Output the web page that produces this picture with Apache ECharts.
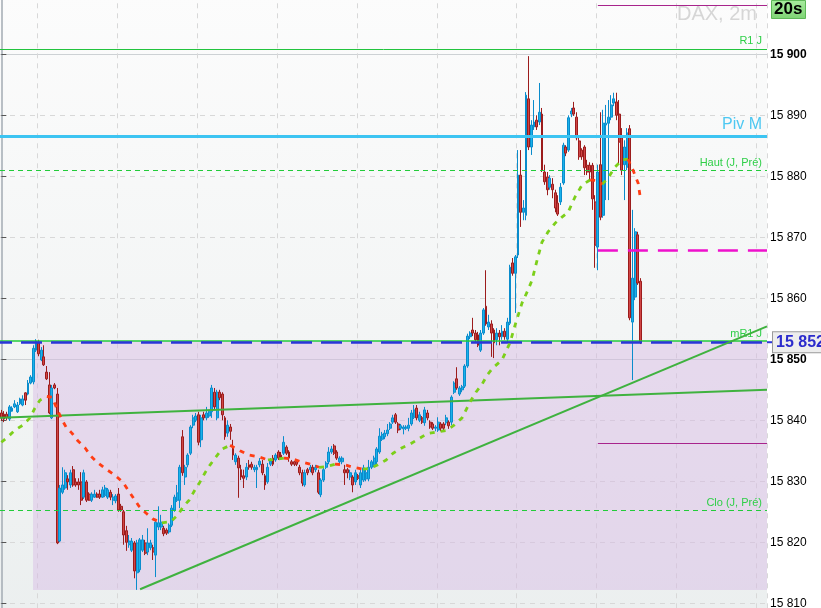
<!DOCTYPE html>
<html><head><meta charset="utf-8">
<script src="https://cdn.jsdelivr.net/npm/echarts/dist/echarts.min.js"></script>
<style>html,body{margin:0;padding:0;background:#fff}#c{width:821px;height:608px}</style>
</head><body><div id="c"></div>
<script>
// ---- DATA (2-minute DAX candles) ----
const open = [
15841.2,15841.0,15841.0,15840.2,15841.5,15842.2,15841.4,15842.7,15842.5,15844.5,
15844.3,15846.1,15846.3,15851.5,15852.7,15849.9,15850.4,15847.9,15845.8,15840.4,
15845.8,15844.3,15820.2,15828.2,15828.9,15830.4,15829.4,15831.9,15829.9,15829.9,
15829.9,15827.4,15829.9,15827.9,15826.9,15827.4,15827.9,15827.9,15827.4,15827.7,
15827.4,15828.2,15826.9,15826.8,15827.9,15825.9,15825.0,15821.9,15819.6,15818.7,
15819.9,15815.0,15815.5,15818.7,15819.9,15818.4,15819.1,15819.1,15817.9,15822.5,
15822.5,15822.3,15822.0,15821.7,15822.8,15825.3,15826.9,15826.9,15837.3,15830.7,
15832.7,15834.6,15839.2,15840.0,15840.9,15836.8,15840.9,15840.4,15840.7,15841.4,
15844.6,15840.4,15844.6,15844.3,15840.4,15837.9,15838.9,15835.6,15833.2,15833.8,
15831.9,15830.9,15830.7,15832.7,15832.8,15831.9,15831.9,15832.7,15832.8,15830.9,
15829.9,15832.8,15833.8,15833.5,15834.8,15834.3,15834.6,15835.6,15834.8,15833.2,
15833.2,15833.2,15832.3,15831.4,15829.4,15831.9,15831.9,15832.3,15831.9,15831.4,
15827.8,15830.2,15832.3,15833.2,15834.8,15835.8,15834.8,15833.2,15833.2,15831.9,
15831.9,15830.7,15830.7,15829.9,15830.9,15829.4,15830.2,15830.4,15830.4,15832.3,
15832.7,15833.2,15834.8,15836.9,15837.3,15837.8,15838.7,15839.7,15840.9,15839.4,
15838.7,15838.6,15838.7,15838.7,15839.4,15840.5,15842.0,15840.0,15840.4,15839.6,
15841.2,15839.7,15839.4,15838.7,15838.4,15839.4,15839.4,15839.6,15839.7,15839.7,
15844.6,15846.8,15844.3,15845.0,15845.6,15848.9,15853.7,15854.8,15854.3,15854.0,
15851.5,15854.3,15858.7,15855.3,15855.8,15854.8,15853.2,15854.3,15853.7,15854.6,
15853.3,15855.9,15865.8,15864.1,15867.1,15880.2,15874.1,15873.6,15892.7,15884.8,
15888.1,15889.2,15888.9,15890.2,15880.7,15879.9,15878.2,15878.7,15877.3,15875.6,
15875.8,15878.9,15884.8,15884.3,15890.2,15891.2,15889.7,15885.8,15884.3,15884.8,
15881.8,15881.8,15881.8,15875.8,15868.4,15881.9,15873.6,15888.4,15888.7,15889.7,
15892.0,15892.2,15890.2,15886.3,15881.9,15881.5,15887.8,15856.1,15860.2,15870.4,
15862.8];
const close = [
15840.4,15840.2,15840.4,15842.2,15842.0,15842.7,15842.5,15843.5,15843.5,15843.3,
15846.1,15847.1,15851.8,15853.0,15850.9,15851.5,15849.1,15846.8,15841.2,15845.3,
15845.3,15819.9,15828.9,15829.4,15831.4,15829.9,15831.4,15829.4,15829.4,15829.4,
15826.9,15831.4,15826.9,15826.9,15827.9,15827.9,15827.4,15827.4,15828.6,15828.9,
15828.6,15827.4,15827.4,15827.6,15825.3,15825.3,15821.2,15820.0,15820.2,15820.2,
15815.3,15819.9,15820.4,15820.4,15818.2,15819.9,15819.9,15818.4,15823.3,15823.2,
15823.3,15821.4,15821.5,15822.8,15825.6,15827.4,15828.1,15832.3,15831.4,15832.3,
15834.3,15838.9,15840.4,15840.7,15836.4,15840.4,15840.4,15841.2,15841.4,15845.3,
15842.2,15844.6,15843.7,15840.9,15837.3,15839.2,15838.2,15834.3,15834.3,15832.2,
15830.7,15830.5,15832.3,15832.3,15832.3,15832.3,15832.3,15833.3,15831.4,15829.4,
15832.3,15833.3,15832.8,15834.3,15833.8,15833.8,15836.4,15834.6,15833.8,15832.8,
15832.8,15832.8,15831.4,15829.7,15831.4,15831.4,15832.3,15831.4,15832.3,15828.2,
15830.2,15831.9,15833.0,15834.8,15835.3,15834.6,15833.8,15833.8,15833.8,15831.4,
15831.4,15831.4,15829.4,15831.4,15830.5,15831.4,15832.2,15831.4,15832.3,15833.2,
15833.8,15835.3,15837.4,15837.7,15837.9,15838.4,15839.4,15840.4,15839.7,15838.4,
15839.1,15838.9,15838.9,15839.2,15841.2,15841.7,15840.4,15840.9,15839.7,15841.7,
15840.4,15838.9,15838.7,15838.9,15839.7,15838.7,15838.7,15840.4,15839.1,15843.8,
15846.1,15845.3,15845.3,15845.5,15848.9,15853.8,15854.3,15854.3,15853.2,15852.3,
15854.3,15858.1,15855.8,15856.1,15854.3,15852.7,15854.3,15853.7,15854.6,15853.7,
15856.1,15865.1,15864.1,15866.8,15880.2,15874.1,15874.8,15893.3,15884.8,15888.4,
15888.9,15888.1,15890.5,15881.0,15879.1,15877.8,15879.7,15877.8,15874.8,15873.8,
15878.2,15885.1,15883.8,15889.6,15890.7,15890.2,15886.3,15883.2,15883.2,15881.4,
15880.7,15880.7,15876.3,15868.7,15880.7,15873.3,15888.7,15888.7,15889.7,15891.7,
15892.7,15890.0,15885.6,15881.0,15884.8,15887.1,15856.8,15863.3,15870.9,15862.5,
15852.8];
const low = [
15839.9,15839.7,15840.0,15839.9,15841.4,15842.0,15841.2,15842.5,15842.3,15842.5,
15844.1,15845.9,15845.9,15851.2,15850.5,15849.7,15848.9,15846.6,15841.0,15840.2,
15845.1,15819.7,15820.0,15827.9,15828.6,15828.6,15828.9,15829.1,15829.1,15828.6,
15826.1,15827.1,15826.6,15826.8,15826.6,15827.3,15827.3,15827.1,15827.3,15827.4,
15827.1,15826.9,15826.1,15826.4,15825.0,15825.0,15819.6,15818.6,15819.1,15818.4,
15814.1,15812.2,15815.1,15818.4,15817.9,15817.9,15818.7,15817.1,15814.3,15822.0,
15822.0,15821.0,15821.2,15821.4,15822.5,15825.0,15826.6,15825.6,15830.9,15829.4,
15832.3,15834.3,15838.7,15839.7,15835.9,15835.6,15840.0,15840.0,15840.4,15840.4,
15841.7,15840.0,15843.3,15840.0,15836.8,15837.3,15836.8,15833.5,15832.7,15827.3,
15830.2,15828.9,15830.2,15831.9,15831.9,15831.5,15828.9,15832.3,15831.0,15828.6,
15829.6,15832.5,15832.5,15833.2,15833.5,15833.5,15834.3,15834.3,15833.2,15832.5,
15832.5,15832.5,15831.0,15829.2,15829.1,15831.0,15831.5,15831.0,15831.5,15827.9,
15827.4,15829.9,15832.0,15832.8,15834.5,15834.3,15833.5,15832.8,15832.8,15829.4,
15830.5,15830.2,15828.2,15829.4,15830.2,15828.9,15829.9,15830.0,15830.0,15832.0,
15832.3,15832.8,15834.5,15836.6,15836.9,15837.4,15838.4,15839.4,15839.4,15837.9,
15838.4,15837.7,15838.4,15838.2,15839.1,15840.2,15840.0,15839.7,15839.4,15839.1,
15840.0,15838.6,15838.4,15838.2,15838.1,15838.2,15838.4,15839.2,15838.6,15839.2,
15844.3,15845.0,15844.0,15844.6,15845.3,15848.6,15853.3,15853.8,15852.8,15852.0,
15851.2,15854.0,15855.5,15854.8,15850.4,15850.2,15852.3,15852.3,15853.2,15853.2,
15852.8,15855.6,15863.7,15857.6,15866.6,15871.7,15872.8,15872.8,15884.3,15883.5,
15887.6,15887.6,15888.4,15880.7,15878.6,15876.9,15877.8,15876.4,15874.1,15873.5,
15875.3,15878.6,15883.3,15884.0,15889.7,15889.9,15885.9,15882.7,15882.7,15880.2,
15880.2,15879.4,15874.5,15865.0,15864.6,15872.8,15873.2,15876.1,15876.1,15889.2,
15891.5,15889.2,15881.9,15880.2,15876.1,15881.0,15856.4,15846.6,15859.7,15862.2,
15852.5];
const high = [
15841.7,15841.5,15841.4,15842.5,15842.3,15843.3,15843.0,15843.7,15844.1,15844.6,
15846.6,15847.4,15852.3,15853.3,15853.2,15852.0,15852.3,15848.9,15847.9,15845.8,
15846.1,15845.3,15829.4,15832.3,15831.9,15831.0,15831.9,15832.5,15830.5,15830.5,
15831.5,15831.9,15830.2,15828.2,15828.2,15828.6,15828.2,15828.6,15829.1,15829.4,
15828.9,15828.6,15827.9,15827.9,15828.9,15826.3,15825.3,15822.7,15821.2,15820.7,
15820.2,15820.4,15820.7,15821.2,15820.4,15822.3,15820.4,15819.6,15823.6,15825.9,
15824.5,15822.7,15822.3,15823.1,15826.1,15827.8,15829.4,15832.7,15838.4,15832.7,
15834.6,15839.2,15840.9,15841.2,15841.4,15840.9,15841.4,15842.2,15841.7,15845.8,
15845.3,15845.0,15845.0,15844.6,15840.7,15840.0,15839.4,15836.8,15834.6,15834.2,
15832.7,15831.9,15833.0,15833.5,15833.2,15832.7,15832.7,15833.8,15833.5,15831.2,
15833.0,15833.8,15834.3,15834.6,15835.1,15834.8,15837.4,15835.9,15835.1,15833.5,
15833.3,15833.3,15832.7,15831.9,15831.9,15832.2,15832.7,15832.7,15832.7,15831.9,
15830.5,15832.2,15833.3,15835.6,15835.8,15836.1,15835.1,15834.1,15834.1,15832.7,
15832.2,15831.9,15831.0,15831.9,15831.2,15831.9,15832.7,15831.9,15833.5,15833.5,
15834.2,15835.6,15838.7,15838.1,15838.4,15839.4,15839.7,15840.9,15841.2,15839.7,
15839.4,15839.2,15839.2,15840.4,15841.7,15842.5,15842.5,15841.4,15840.7,15842.2,
15841.7,15840.0,15839.7,15839.2,15840.5,15839.7,15839.7,15840.9,15840.0,15844.1,
15846.4,15848.7,15845.6,15845.8,15849.2,15854.2,15854.6,15856.8,15854.8,15854.5,
15854.8,15858.4,15864.6,15857.3,15856.4,15855.1,15855.1,15854.8,15855.6,15855.1,
15856.8,15865.5,15866.6,15867.1,15884.3,15884.3,15876.1,15893.8,15899.7,15889.2,
15892.5,15890.0,15895.3,15891.2,15881.9,15880.7,15880.2,15879.7,15877.8,15876.9,
15878.9,15885.5,15885.1,15890.0,15891.2,15892.2,15890.5,15886.3,15884.6,15885.1,
15882.7,15882.3,15882.2,15876.9,15881.9,15890.5,15890.9,15891.7,15892.5,15893.3,
15893.7,15893.7,15892.5,15887.9,15885.9,15887.9,15888.4,15874.5,15871.5,15870.9,
15863.3];

// moving average (bar index, value)
const maIdx = [0,2.5,5.1,8.1,10.8,12.6,14.5,17.1,19.0,20.9,22.4,24.3,26.5,28.8,31.4,33.7,36.3,39.3,42.7,45.7,49.4,51.7,54.3,57.0,60.3,63.7,66.3,68.2,70.5,72.7,74.6,76.5,78.4,80.6,82.9,85.9,89.6,93.0,96.8,100.1,102.8,106.1,109.2,112.5,115.9,119.3,121.9,125.3,129.1,132.1,135.8,138.4,141.4,144.5,147.1,150.5,153.5,156.5,159.8,163.6,167.0,170.0,173.0,176.0,178.2,180.5,182.4,184.6,188.0,191.0,192.9,195.5,197.8,199.3,201.2,203.0,205.3,207.9,210.5,212.8,215.4,218.1,221.1,223.3,225.6,227.8,230.4,233.1,235.3,237.2,239.1,240];
const maVal = [15836.4,15837.3,15838.4,15839.2,15840.4,15842.0,15843.3,15843.9,15843.8,15841.9,15840.4,15838.9,15837.9,15836.6,15835.5,15834.1,15833.0,15832.0,15831.0,15829.8,15827.4,15825.9,15824.8,15823.8,15823.2,15823.4,15824.5,15825.8,15826.9,15828.6,15829.9,15831.4,15832.7,15834.0,15835.3,15835.9,15835.0,15834.3,15834.0,15833.5,15833.6,15833.8,15833.7,15833.2,15832.8,15832.3,15832.4,15832.8,15832.7,15832.3,15832.0,15832.1,15832.7,15833.5,15834.6,15835.5,15836.1,15836.9,15837.8,15838.1,15838.3,15839.2,15840.4,15843.0,15844.6,15845.9,15847.4,15848.6,15849.9,15852.7,15855.6,15859.2,15861.4,15863.0,15866.3,15869.2,15870.9,15872.3,15873.3,15874.1,15876.6,15878.6,15879.4,15879.3,15878.7,15879.7,15881.5,15882.7,15882.8,15881.0,15878.9,15876.3];

// horizontal levels
const levelNames  = ['R1 J', 'Piv M', 'Haut (J, Pré)', 'mR1 J', 'Clo (J, Pré)'];
const levelValues = [15900.9, 15886.6, 15881.0, 15853.0, 15825.3];
// partial (magenta) levels, start bar index
const magStart = 224;
const magDashed = 15867.9;
const magThin = [15908.1, 15836.3];
// shaded zone
const boxStart = 11.9, boxTop = 15853.0, boxBottom = 15812.2;
// trend lines [barIndex, price]
const trendA = [[52.1, 15812.3], [287.5, 15855.4]];
const trendB = [[-0.5, 15840.4], [287.5, 15845.0]];
const NCAT = 288;
const yTicks = {min: 15800, max: 15910, step: 10};

// ---- CHART ----
const FONT = "'Liberation Sans', Arial, sans-serif";
function fmt(v, dec) {
  const s = dec ? v.toFixed(dec) : String(Math.round(v));
  const parts = s.split('.');
  const ip = parts[0];
  const t = ip.length > 3 ? ip.slice(0, -3) + ' ' + ip.slice(-3) : ip;
  return parts.length > 1 ? t + ',' + parts[1] : t;
}
const categories = Array.from({length: NCAT}, (_, i) => String(i));
const candles = open.map((o, i) => [o, close[i], low[i], high[i]]);
const lastClose = close[close.length - 1];
const maLastIdx = maIdx[maIdx.length - 1], maLast = maVal[maVal.length - 1];

function maRuns(up) {
  const out = [];
  for (let s = 0; s < maIdx.length - 1; s++) {
    const isUp = maVal[s + 1] >= maVal[s];
    if (isUp === up) {
      if (out.length === 0 || out[out.length - 1][1] === '-') out.push([maIdx[s], maVal[s]]);
      out.push([maIdx[s + 1], maVal[s + 1]]);
    } else if (out.length && out[out.length - 1][1] !== '-') {
      out.push([maIdx[s], '-']);
    }
  }
  return out;
}

const levelStyles = [
  {color: '#22c43e', width: 1, type: 'solid', label: '#2fcf48', fs: 11},
  {color: '#3cc4f2', width: 3, type: 'solid', label: '#4ec8f2', fs: 16},
  {color: '#22cc3a', width: 1, type: [5, 4], label: '#2fcf48', fs: 11},
  {color: '#22cc3a', width: 1.5, type: 'solid', label: '#2fcf48', fs: 11},
  {color: '#22cc3a', width: 1, type: [5, 4], label: '#2fcf48', fs: 11}
];
const levelLines = levelNames.map((n, i) => ({
  name: n, yAxis: levelValues[i],
  lineStyle: {color: levelStyles[i].color, width: levelStyles[i].width, type: levelStyles[i].type, opacity: 1},
  label: {show: true, position: 'insideEndTop', formatter: n, color: levelStyles[i].label,
          fontSize: levelStyles[i].fs, fontFamily: FONT, distance: [5, i === 1 ? 3 : 2]}
}));
const magLines = [
  [{coord: [magStart, magDashed], lineStyle: {color: '#ee11cc', width: 2.5, type: [20, 10]}}, {coord: [NCAT - 0.5, magDashed]}],
  [{coord: [magStart, magThin[0]], lineStyle: {color: '#a8248c', width: 1, type: 'solid'}}, {coord: [NCAT - 0.5, magThin[0]]}],
  [{coord: [magStart, magThin[1]], lineStyle: {color: '#a8248c', width: 1, type: 'solid'}}, {coord: [NCAT - 0.5, magThin[1]]}]
];

const chart = echarts.init(document.getElementById('c'), null, {renderer: 'canvas'});
chart.setOption({
  animation: false,
  backgroundColor: '#ffffff',
  title: [
    {text: 'DAX, 2m', right: 64, top: 4, padding: 0,
     textStyle: {fontSize: 20, fontWeight: 'normal', color: '#d6d6d6', fontFamily: FONT}},
    {text: '20s', left: 771, top: 0, padding: [1, 3, 1, 3],
     backgroundColor: {type: 'linear', x: 0, y: 0, x2: 0, y2: 1, colorStops: [{offset: 0, color: '#a8ec9f'}, {offset: 1, color: '#7ed474'}]},
     borderColor: '#5eb858', borderWidth: 1,
     textStyle: {fontSize: 17, fontWeight: 'bold', color: '#000', fontFamily: FONT}}
  ],
  grid: {left: 0, right: 54, top: -6.7, bottom: -56.3, show: true, borderWidth: 0,
         outerBoundsMode: 'none', containLabel: false,
         backgroundColor: {type: 'linear', x: 0, y: 0, x2: 0, y2: 1, colorStops: [{offset: 0, color: '#fcfcfc'}, {offset: 1, color: '#eaeeee'}]}},
  xAxis: [
    {type: 'category', data: categories, boundaryGap: true,
     axisLine: {show: false}, axisTick: {show: false}, axisLabel: {show: false},
     splitLine: {show: true, interval: (idx) => (idx - 14) % 30 === 0, lineStyle: {color: '#d8d8d8', type: [5, 5]}}},
    {type: 'value', min: -0.5, max: NCAT - 0.5, show: false}
  ],
  yAxis: [
    {type: 'value', position: 'right', min: yTicks.min, max: yTicks.max, interval: yTicks.step,
     axisLine: {show: true, lineStyle: {color: '#a3abb3', width: 1.5}},
     axisTick: {show: true, length: 5, lineStyle: {color: '#555'}},
     axisLabel: {margin: 3, hideOverlap: false,
       formatter: v => (v % 50 === 0 ? '{b|' + fmt(v) + '}' : '{n|' + fmt(v) + '}'),
       rich: {b: {fontSize: 12, fontWeight: 'bold', color: '#000', fontFamily: FONT},
              n: {fontSize: 12, color: '#000', fontFamily: FONT}}},
     splitLine: {show: true, lineStyle: {color: '#d8d8d8', type: [5, 5]}}},
    {type: 'value', position: 'right', min: yTicks.min, max: yTicks.max, interval: 50,
     axisLine: {show: false}, axisTick: {show: false}, axisLabel: {show: false},
     splitLine: {show: true, lineStyle: {color: '#cdd1d4', width: 1}}}
  ],
  series: [
    {type: 'line', name: 'zones', xAxisIndex: 1, yAxisIndex: 0, data: [], z: 1, silent: true,
     markArea: {silent: true, itemStyle: {color: 'rgba(214,185,228,0.45)'},
                data: [[{coord: [boxStart, boxTop]}, {coord: [NCAT - 0.5, boxBottom]}]]},
     markLine: {silent: true, symbol: ['none', 'none'], data: levelLines.concat(magLines)}},
    {type: 'candlestick', name: 'DAX', xAxisIndex: 0, yAxisIndex: 0, data: candles, barWidth: 2.4, z: 3,
     itemStyle: {color: '#19b2ea', color0: '#d04646', borderColor: '#0a8ccc', borderColor0: '#9c1c1c', borderWidth: 1},
     markLine: {silent: true, symbol: ['none', 'none'], data: [
       {yAxis: lastClose, lineStyle: {color: '#2b35d8', width: 2.5, type: [21, 9], dashOffset: 9},
        label: {show: true, position: 'end', distance: 0,
          formatter: '{t| }{b|' + fmt(lastClose, 1) + '}',
          rich: {t: {width: 6, height: 2, backgroundColor: '#2b35d8'},
                 b: {fontSize: 16, fontWeight: 'bold', color: '#2b2bcc', fontFamily: FONT, lineHeight: 16,
                     backgroundColor: '#ededed', borderColor: '#9a9a9a', borderWidth: 1, padding: [2, 3, 2, 3]}}}}
     ]}},
    {type: 'line', name: 'trendA', xAxisIndex: 1, data: trendA, symbol: 'none', z: 5,
     lineStyle: {color: '#3fb23f', width: 2}},
    {type: 'line', name: 'trendB', xAxisIndex: 1, data: trendB, symbol: 'none', z: 5,
     lineStyle: {color: '#3fb23f', width: 2}},
    {type: 'line', name: 'maUp', xAxisIndex: 1, data: maRuns(true), symbol: 'none', z: 6, connectNulls: false,
     lineStyle: {color: '#7ccf1a', width: 2.8, type: [5, 6]}},
    {type: 'line', name: 'maDown', xAxisIndex: 1, data: maRuns(false), symbol: 'none', z: 6, connectNulls: false,
     lineStyle: {color: '#ff3d14', width: 2.8, type: [5, 6]},
     markLine: {silent: true, symbol: ['none', 'none'], data: [[
       {coord: [maLastIdx, maLast], lineStyle: {opacity: 0}},
       {coord: [NCAT - 0.5, maLast],
        label: {show: true, position: 'end', distance: 0,
          formatter: '{t| }{b|' + fmt(maLast, 1) + '}',
          rich: {t: {width: 5, height: 1.5, backgroundColor: '#ff2a10'},
                 b: {fontSize: 11, color: '#ff2a10', fontFamily: FONT, lineHeight: 13,
                     backgroundColor: '#ececec', borderColor: '#a0a0a0', borderWidth: 1, padding: [2, 3, 2, 3]}}}}
     ]]}}
  ]
});
</script></body></html>
